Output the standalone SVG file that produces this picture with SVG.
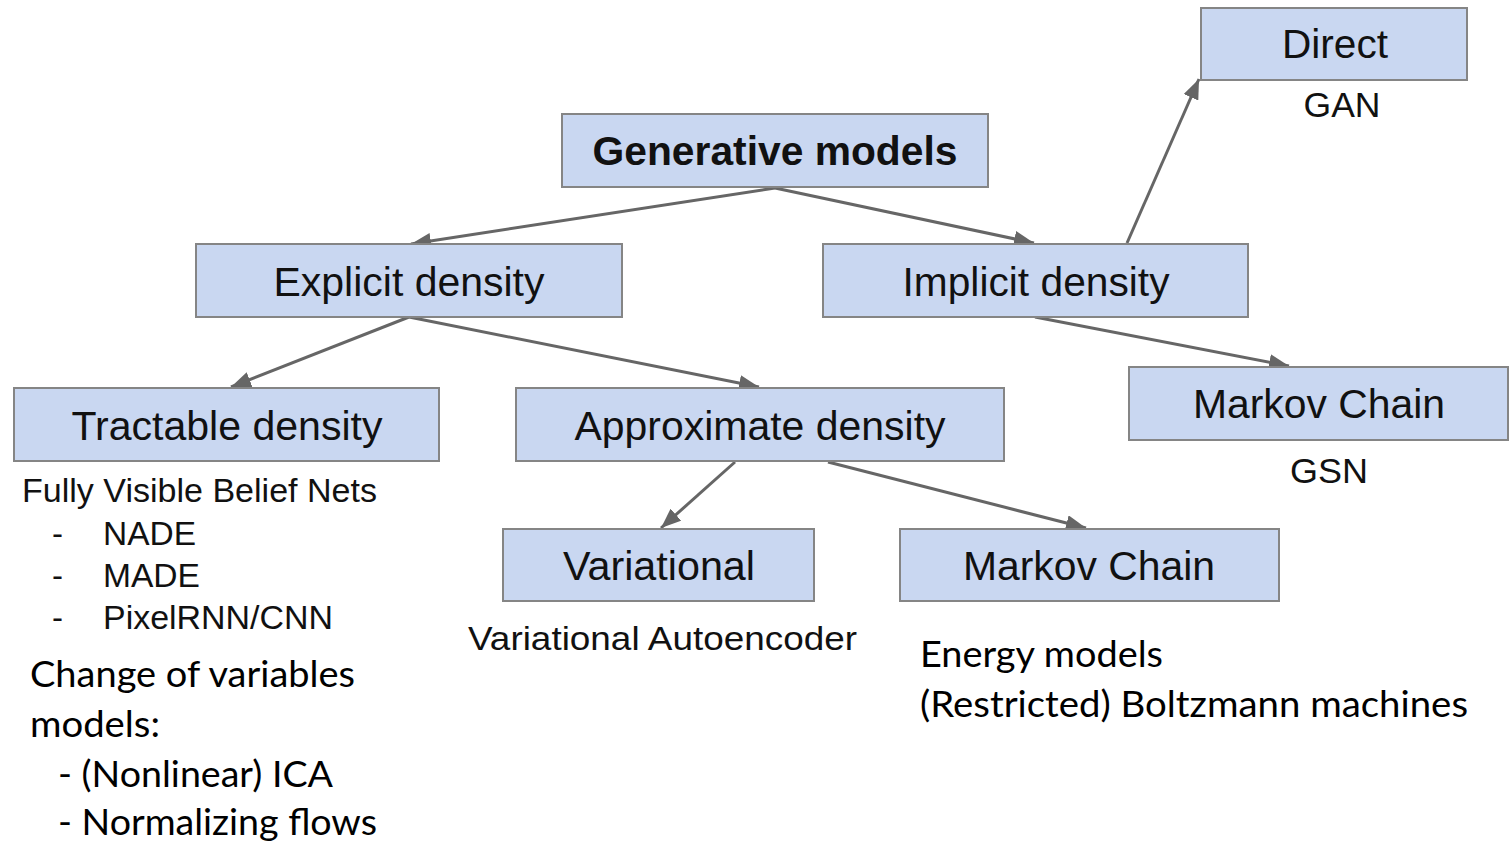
<svg xmlns="http://www.w3.org/2000/svg" width="1510" height="843" viewBox="0 0 1510 843">
<style>
.box{fill:#c9d7f1;stroke:#858585;stroke-width:2}
.bt{font-family:"Liberation Sans",Arial,sans-serif;font-size:40px;fill:#111;text-anchor:middle}
.st{font-family:"Liberation Sans",Arial,sans-serif;font-size:33px;fill:#111}
.ct{font-family:Lato,"Noto Sans",sans-serif;font-size:36px;fill:#000}
.edge{stroke:#666;stroke-width:3;fill:none;marker-end:url(#ah)}
</style>
<defs>
<marker id="ah" markerUnits="userSpaceOnUse" markerWidth="22" markerHeight="16" refX="20" refY="8" orient="auto">
<path d="M0,0 L20,8 L0,16 Z" fill="#666"/>
</marker>
</defs>
<rect width="1510" height="843" fill="#fff"/>
<g id="connectors">
<line class="edge" x1="775" y1="188" x2="411" y2="244"/>
<line class="edge" x1="775" y1="188" x2="1034" y2="243"/>
<line class="edge" x1="1127" y1="243" x2="1199" y2="79"/>
<line class="edge" x1="409" y1="317" x2="231" y2="387"/>
<line class="edge" x1="409" y1="317" x2="759" y2="387"/>
<line class="edge" x1="1035" y1="317" x2="1289" y2="366"/>
<line class="edge" x1="735" y1="462" x2="661" y2="528"/>
<line class="edge" x1="828" y1="462" x2="1086" y2="528"/>
</g>
<g id="generative">
<rect class="box" x="562" y="114" width="426" height="73"/>
<text class="bt" x="775" y="165" font-weight="bold" textLength="365" lengthAdjust="spacingAndGlyphs">Generative models</text>
</g>
<g id="explicit">
<rect class="box" x="196" y="244" width="426" height="73"/>
<text class="bt" x="409" y="296" textLength="271" lengthAdjust="spacingAndGlyphs">Explicit density</text>
</g>
<g id="implicit">
<rect class="box" x="823" y="244" width="425" height="73"/>
<text class="bt" x="1036" y="296" textLength="267" lengthAdjust="spacingAndGlyphs">Implicit density</text>
</g>
<g id="direct">
<rect class="box" x="1201" y="8" width="266" height="72"/>
<text class="bt" x="1335" y="58" textLength="106" lengthAdjust="spacingAndGlyphs">Direct</text>
<text class="bt" x="1342" y="117" style="font-size:35px" textLength="77" lengthAdjust="spacingAndGlyphs">GAN</text>
</g>
<g id="tractable">
<rect class="box" x="14" y="388" width="425" height="73"/>
<text class="bt" x="227" y="440" textLength="311" lengthAdjust="spacingAndGlyphs">Tractable density</text>
<text class="st" x="22" y="502" textLength="355" lengthAdjust="spacingAndGlyphs">Fully Visible Belief Nets</text>
<text class="st" x="52" y="545">-</text>
<text class="st" x="103" y="545" textLength="93" lengthAdjust="spacingAndGlyphs">NADE</text>
<text class="st" x="52" y="587">-</text>
<text class="st" x="103" y="587" textLength="97" lengthAdjust="spacingAndGlyphs">MADE</text>
<text class="st" x="52" y="629">-</text>
<text class="st" x="103" y="629" textLength="230" lengthAdjust="spacingAndGlyphs">PixelRNN/CNN</text>
<text class="ct" x="30" y="687" textLength="325" lengthAdjust="spacingAndGlyphs">Change of variables</text>
<text class="ct" x="30" y="737" textLength="130" lengthAdjust="spacingAndGlyphs">models:</text>
<text class="ct" x="58" y="787" textLength="275" lengthAdjust="spacingAndGlyphs">- (Nonlinear) ICA</text>
<text class="ct" x="58" y="835" textLength="319" lengthAdjust="spacingAndGlyphs">- Normalizing flows</text>
</g>
<g id="approximate">
<rect class="box" x="516" y="388" width="488" height="73"/>
<text class="bt" x="760" y="440" textLength="371" lengthAdjust="spacingAndGlyphs">Approximate density</text>
</g>
<g id="markov-implicit">
<rect class="box" x="1129" y="367" width="379" height="73"/>
<text class="bt" x="1319" y="418" textLength="252" lengthAdjust="spacingAndGlyphs">Markov Chain</text>
<text class="bt" x="1329" y="483" style="font-size:35px" textLength="78" lengthAdjust="spacingAndGlyphs">GSN</text>
</g>
<g id="variational">
<rect class="box" x="503" y="529" width="311" height="72"/>
<text class="bt" x="659" y="580" textLength="192" lengthAdjust="spacingAndGlyphs">Variational</text>
<text class="st" x="468" y="650" textLength="389" lengthAdjust="spacingAndGlyphs">Variational Autoencoder</text>
</g>
<g id="markov-approx">
<rect class="box" x="900" y="529" width="379" height="72"/>
<text class="bt" x="1089" y="580" textLength="252" lengthAdjust="spacingAndGlyphs">Markov Chain</text>
<text class="ct" x="920" y="667" textLength="243" lengthAdjust="spacingAndGlyphs">Energy models</text>
<text class="ct" x="920" y="717" textLength="548" lengthAdjust="spacingAndGlyphs">(Restricted) Boltzmann machines</text>
</g>
</svg>
